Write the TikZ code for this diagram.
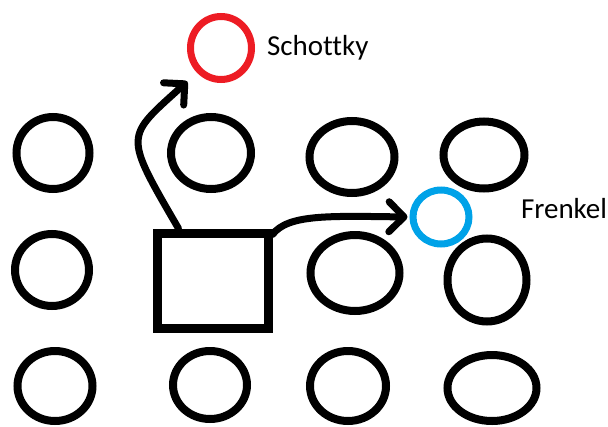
\documentclass[tikz,border=0pt]{standalone}
\usepackage{fontspec}
\setmainfont{Carlito}[Ligatures=NoCommon]
\usetikzlibrary{arrows.meta, shapes.geometric, calc}
\definecolor{cred}{HTML}{ED1C24}
\definecolor{cblue}{HTML}{00A2E8}
\tikzset{
  every picture/.style={line width=8pt, line cap=round},
  atom/.style={draw, ellipse, inner sep=0pt},
  vac/.style={draw, rectangle, line width=9pt, inner sep=0pt, minimum width=111pt, minimum height=95pt},
  hole/.style={draw=#1, ellipse, line width=7pt, inner sep=0pt},
  arrow/.style={-{Straight Barb[length=15pt, width=30pt, round]}, line width=7pt, line join=round},
  defect/.style={font=\fontsize{29}{34}\selectfont, inner sep=0pt, anchor=base west},
}

\begin{document}
\begin{tikzpicture}[x=1pt, y=-1pt]
  \useasboundingbox (0,0) rectangle (608,426);
  % lattice
  \foreach \n/\x/\y/\w/\h in {a11/53/153/73/72, a12/211/153/80/72, a13/352/157/85/72, a14/484/155/81/67,
                             a21/52/270/74/72, a23/355/273/89/76, a24/487/280/79/83,
                             a31/55/386/75/70, a32/210/385/74/68, a33/348/386/76/70, a34/492/388/89/66}
    \node[atom, minimum width=\w pt, minimum height=\h pt] (\n) at (\x,\y) {};
  \node[vac] (sq) at (212.5,280.5) {};
  % defects
  \node[hole=cred, minimum width=61pt, minimum height=63pt] (schottky) at (221,48) {};
  \node[defect] at (263,55) {Schottky};
  \node[hole=cblue, minimum width=56pt, minimum height=54pt] (frenkel) at (441,217) {};
  \node[defect] at (517,218) {Frenkel};
  \draw[arrow, shorten >=13pt] ([xshift=26pt]sq.north west) .. controls (123,133) and (125,138) .. (schottky.south west);
  \draw[arrow, shorten >=2pt] ([yshift=-6pt]sq.north east) .. controls (288,214) and (330,216) .. (frenkel.west);
\end{tikzpicture}
\end{document}
